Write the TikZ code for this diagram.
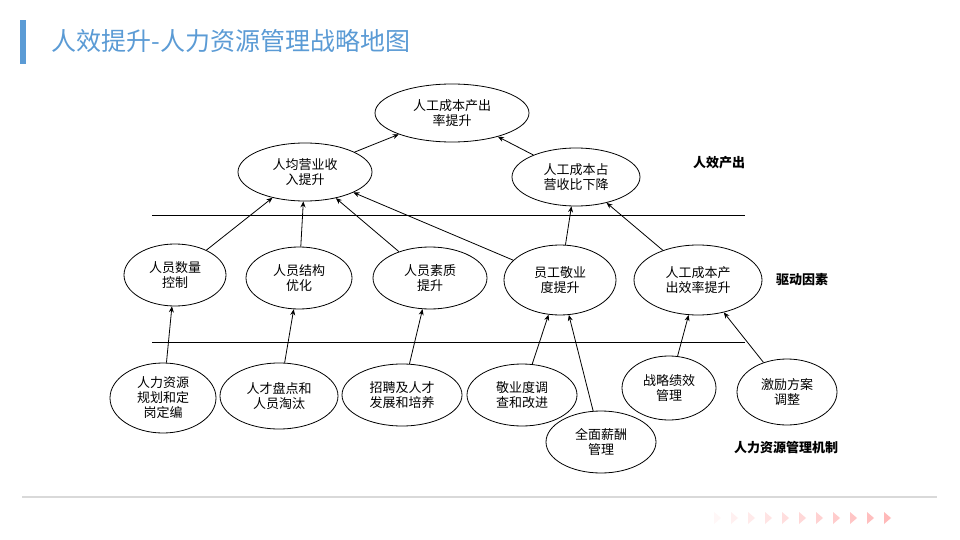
\documentclass[tikz,border=0pt]{standalone}
\usepackage{fontspec}
\setmainfont{Noto Sans CJK SC}
\usetikzlibrary{shapes.geometric,arrows.meta}
\begin{document}
\begin{tikzpicture}[x=1pt,y=-1pt,
  el/.style={ellipse,draw,thick,minimum width=#1,inner sep=0pt,align=center,font=\fontsize{13}{15}\selectfont},
  ar/.style={-{Stealth[length=6pt,width=5pt]},thick},
  lab/.style={font=\fontsize{13}{15}\selectfont\bfseries}]
\useasboundingbox (0,0) rectangle (960,540);
\fill[white] (0,0) rectangle (960,540);
\fill[blue!40!cyan!60!black!60, fill={rgb,255:red,91;green,155;blue,213}] (20,20) rectangle (26,64);
\node[anchor=west,text={rgb,255:red,91;green,155;blue,213},font=\fontsize{25}{28}\selectfont] (title) at (48,41) {人效提升-人力资源管理战略地图};
\draw[line width=1.2pt,black!15] (22,497) -- (937,497);
\foreach \i in {0,...,10}{
  \pgfmathsetmacro{\op}{0.08+0.06*\i}
  \fill[red!40,opacity=\op] (714+17*\i,512) -- (721+17*\i,518) -- (714+17*\i,524) -- cycle;}
\node[el=154pt,minimum height=58pt] (t) at (452,113) {人工成本产出\\率提升};
\node[el=134pt,minimum height=58pt] (a) at (305,172) {人均营业收\\入提升};
\node[el=128pt,minimum height=58pt] (b) at (576,177) {人工成本占\\营收比下降};
\node[el=102pt,minimum height=62pt] (c1) at (175,275) {人员数量\\控制};
\node[el=106pt,minimum height=62pt] (c2) at (299,278) {人员结构\\优化};
\node[el=114pt,minimum height=62pt] (c3) at (430,278) {人员素质\\提升};
\node[el=112pt,minimum height=70pt] (c4) at (560,280) {员工敬业\\度提升};
\node[el=128pt,minimum height=70pt] (c5) at (698,280) {人工成本产\\出效率提升};
\node[el=106pt,minimum height=70pt] (d1) at (163,398) {人力资源\\规划和定\\岗定编};
\node[el=118pt,minimum height=66pt] (d2) at (279,396) {人才盘点和\\人员淘汰};
\node[el=120pt,minimum height=62pt] (d3) at (402,395) {招聘及人才\\发展和培养};
\node[el=110pt,minimum height=62pt] (d4) at (522,395) {敬业度调\\查和改进};
\node[el=110pt,minimum height=62pt] (d5) at (601,442) {全面薪酬\\管理};
\node[el=94pt,minimum height=64pt] (d6) at (669,388) {战略绩效\\管理};
\node[el=100pt,minimum height=66pt] (d7) at (787,392) {激励方案\\调整};
\draw[thick] (152,215) coordinate (l1a) -- (745,215) coordinate (l1b);
\draw[thick] (152,342) coordinate (l2a) -- (745,342) coordinate (l2b);
\node[lab] (n1) at (719,163) {人效产出};
\node[lab] (n2) at (802,280) {驱动因素};
\node[lab] (n3) at (786,448) {人力资源管理机制};
\draw[ar] (a) -- (t);
\draw[ar] (b) -- (t);
\draw[ar] (c1) -- (a);
\draw[ar] (c2) -- (a);
\draw[ar] (c3) -- (a);
\draw[ar] (c4) -- (a);
\draw[ar] (c4) -- (b);
\draw[ar] (c5) -- (b);
\draw[ar] (d1) -- (c1);
\draw[ar] (d2) -- (c2);
\draw[ar] (d3) -- (c3);
\draw[ar] (d4) -- (c4);
\draw[ar] (d5) -- (c4);
\draw[ar] (d6) -- (c5);
\draw[ar] (d7) -- (c5);
\end{tikzpicture}
\end{document}
